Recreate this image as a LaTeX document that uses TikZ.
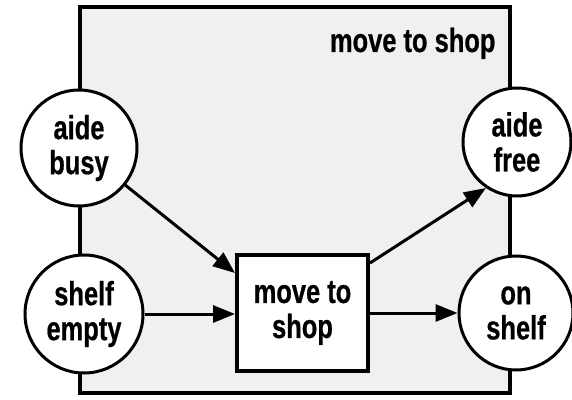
\documentclass[tikz,border=0pt]{standalone}
\usepackage{fontspec}
\setmainfont{Liberation Sans}
\newfontfamily\diagfont[FakeStretch=0.76,FakeBold=0.6]{Liberation Sans Bold}
\usetikzlibrary{arrows.meta}
\definecolor{framegray}{HTML}{F0F0F0}
\tikzset{
  txt/.style={font=\diagfont\fontsize{33.5}{35}\selectfont, align=center},
  place/.style={txt, circle, draw, line width=3pt, fill=white, inner sep=0pt},
  trans/.style={txt, rectangle, draw, line width=4pt, fill=white, minimum width=131pt, minimum height=116pt, inner sep=0pt},
  arc/.style={line width=3pt, -{Triangle[length=22pt,width=17pt]}},
}
\begin{document}
\begin{tikzpicture}[x=1pt,y=1pt]
\useasboundingbox (0,0) rectangle (572,399);
\node[draw, line width=4pt, fill=framegray, minimum width=430pt, minimum height=386pt, inner sep=0pt] (frame) at (295,199) {};
\node[txt, anchor=base east] (title) at (499,347) {move to shop};
\node[place, minimum size=116pt] (busy) at (79,251) {aide\\busy};
\node[place, minimum size=118pt] (empty) at (84,85) {shelf\\empty};
\node[place, minimum size=108pt] (free) at (517,257) {aide\\free};
\node[place, minimum size=114pt] (shelf) at (516,86) {on\\shelf};
\node[trans] (box) at (302.5,86) {move to\\shop};
\coordinate (bin) at ([yshift=-20pt]box.north west);
\coordinate (bout) at ([yshift=-10pt]box.north east);
\draw[arc] (busy) -- (bin);
\draw[arc] (empty) -- (empty -| box.west);
\draw[arc] (bout) -- (free.236);
\draw[arc] (box.east) -- (shelf);
\end{tikzpicture}
\end{document}
